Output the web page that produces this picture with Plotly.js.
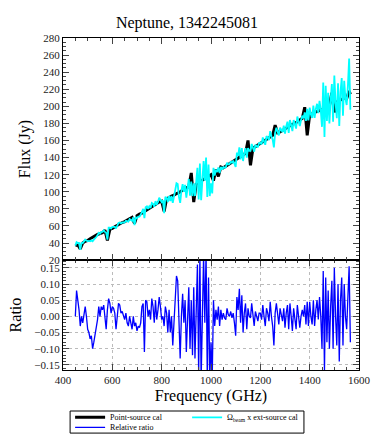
<!DOCTYPE html>
<html>
<head>
<meta charset="utf-8">
<script src="https://cdn.plot.ly/plotly-3.0.1.min.js"></script>
<style>
  body { margin: 0; background: #fff; }
  #plotArea { width: 374px; height: 441px; }
</style>
</head>
<body>
<div id="plotArea"></div>
<script>
// Neptune, obsid 1342245081 - flux and ratio vs frequency

// frequency grid for the ext-source curve and the ratio (GHz)
var freqFine = [
  450, 455, 460, 465, 470, 475, 480, 485, 490, 495, 500, 505, 510, 515, 520, 525, 530, 535, 540, 545,
  550, 555, 560, 565, 570, 575, 580, 585, 590, 595, 600, 605, 610, 615, 620, 625, 630, 635, 640, 645,
  650, 655, 660, 665, 670, 675, 680, 685, 690, 695, 700, 705, 710, 715, 720, 725, 730, 735, 740, 745,
  750, 755, 760, 765, 770, 775, 780, 785, 790, 795, 800, 805, 810, 815, 820, 825, 830, 835, 840, 845,
  850, 855, 860, 865, 870, 875, 880, 885, 890, 895, 900, 905, 910, 915, 920, 925, 930, 935, 940, 945,
  950, 955, 960, 965, 970, 975, 980, 985, 990, 995, 1000, 1005, 1010, 1015, 1020, 1025, 1030, 1035, 1040, 1045,
  1050, 1055, 1060, 1065, 1070, 1075, 1080, 1085, 1090, 1095, 1100, 1105, 1110, 1115, 1120, 1125, 1130, 1135, 1140, 1145,
  1150, 1155, 1160, 1165, 1170, 1175, 1180, 1185, 1190, 1195, 1200, 1205, 1210, 1215, 1220, 1225, 1230, 1235, 1240, 1245,
  1250, 1255, 1260, 1265, 1270, 1275, 1280, 1285, 1290, 1295, 1300, 1305, 1310, 1315, 1320, 1325, 1330, 1335, 1340, 1345,
  1350, 1355, 1360, 1365, 1370, 1375, 1380, 1385, 1390, 1395, 1400, 1405, 1410, 1415, 1420, 1425, 1430, 1435, 1440, 1445,
  1450, 1455, 1460, 1465, 1470, 1475, 1480, 1485, 1490, 1495, 1500, 1505, 1510, 1515, 1520, 1525, 1530, 1535, 1540, 1545,
  1550, 1555, 1560, 1565
];

// Omega_beam x ext-source cal (Jy)
var extFlux = [
  37, 41, 40, 40, 32, 40, 40, 42, 44, 43, 42, 42.5, 42, 43, 42, 44, 45, 47, 49, 52,
  51, 53, 53, 55, 53, 52, 44, 58, 58, 57, 59, 59, 59, 57, 60, 63.5, 64, 63, 64, 64,
  64, 66, 65, 65, 68, 67, 66, 70, 61, 70, 69, 71, 71, 73, 78, 80, 69, 82, 83, 80,
  83, 81, 87, 86, 82.5, 89, 85, 88, 93, 91, 88, 90, 75, 94, 93, 88, 95, 89, 95, 87,
  93, 102, 110, 109, 94, 87, 101, 109, 100, 108, 93, 105, 115, 95.5, 112, 95, 110, 95, 116, 128,
  91, 133, 90, 116, 136, 113, 140, 94, 132, 95, 110, 98, 128, 119, 126, 123, 128.5, 122, 129, 126,
  129, 128, 128.5, 134, 132, 132.5, 135, 134, 136.5, 133, 129, 146, 142, 152, 138, 151, 136, 145, 151, 140,
  151, 148, 148, 156, 151, 147, 155, 153, 152, 157, 157.5, 155.5, 163.5, 159, 155, 165, 163.5, 160.5, 171, 165,
  161, 152, 169, 175, 169, 166, 175, 171.5, 170, 177.5, 168, 176.5, 182, 169, 184, 178, 171, 184, 180, 174,
  188, 183, 177, 184, 189, 186, 193, 183, 197, 183.5, 198.5, 190.5, 186.5, 201, 186.5, 197, 203, 192, 206.5, 195.5,
  176, 228, 164, 224, 183, 216, 180, 207, 226, 182, 236, 204, 186, 227, 177, 217, 233, 189, 230, 209,
  201.5, 224, 256, 196
];

// relative ratio
var ratio = [
  0.00, 0.08, 0.05, 0.02, -0.03, 0.00, -0.02, 0.01, 0.03, 0.00, -0.04, -0.05, -0.07, -0.06, -0.10, -0.08, -0.06, -0.04, -0.01, 0.03,
  0.00, 0.03, 0.02, 0.035, 0.00, -0.04, 0.02, 0.055, 0.04, 0.01, 0.03, 0.025, 0.01, -0.04, 0.00, 0.04, 0.035, 0.01, 0.015, 0.00,
  -0.01, 0.01, -0.02, -0.03, 0.00, -0.02, -0.04, 0.00, -0.03, -0.02, -0.045, -0.03, -0.035, -0.02, 0.03, 0.04, -0.11, 0.05, 0.045, 0.00,
  0.02, -0.01, 0.055, 0.03, -0.02, 0.05, -0.01, 0.02, 0.06, 0.03, -0.01, 0.00, -0.03, 0.03, 0.01, -0.05, 0.02, -0.05, 0.00, -0.09,
  -0.03, 0.05, 0.125, 0.11, -0.05, -0.13, 0.00, 0.07, -0.02, 0.05, -0.11, 0.00, 0.09, -0.10, 0.05, -0.12, 0.09, -0.13, 0.06, 0.16,
  -0.18, 0.19, -0.20, 0.02, 0.19, -0.02, 0.20, -0.20, 0.12, -0.20, -0.08, -0.19, 0.05, -0.03, 0.02, -0.01, 0.03, -0.03, 0.02, -0.01,
  0.01, -0.005, -0.01, 0.025, 0.005, 0.00, 0.015, -0.005, 0.01, -0.02, -0.06, 0.06, 0.02, 0.085, -0.02, 0.065, -0.05, 0.01, 0.04, -0.04,
  0.025, 0.00, -0.005, 0.04, 0.00, -0.03, 0.015, 0.00, -0.015, 0.01, 0.01, -0.01, 0.035, 0.00, -0.03, 0.025, 0.01, -0.015, 0.045, 0.00,
  -0.03, -0.09, 0.01, 0.04, 0.00, -0.025, 0.025, 0.00, -0.015, 0.025, -0.035, 0.01, 0.035, -0.04, 0.04, 0.00, -0.045, 0.025, 0.00, -0.04,
  0.035, 0.00, -0.035, 0.00, 0.02, 0.00, 0.035, -0.025, 0.045, -0.03, 0.045, 0.00, -0.025, 0.05, -0.03, 0.02, 0.05, -0.01, 0.06, 0.00,
  -0.10, 0.14, -0.17, 0.12, -0.08, 0.08, -0.10, 0.03, 0.11, -0.10, 0.15, 0.00, -0.09, 0.10, -0.14, 0.05, 0.12, -0.09, 0.10, 0.00,
  -0.04, 0.06, 0.155, -0.08
];

// coarser grid for the point-source curve (GHz)
var freqCoarse = [
  450, 460, 470, 480, 490, 500, 510, 520, 530, 540, 550, 560, 570, 580, 590, 600, 610, 620, 630, 640,
  650, 660, 670, 680, 690, 700, 710, 720, 730, 740, 750, 760, 770, 780, 790, 800, 810, 820, 830, 840,
  850, 860, 870, 880, 890, 900, 910, 920, 930, 940, 950, 960, 970, 980, 990, 1000, 1010, 1020, 1030, 1040,
  1050, 1060, 1070, 1080, 1090, 1100, 1110, 1120, 1130, 1140, 1150, 1160, 1170, 1180, 1190, 1200, 1210, 1220, 1230, 1240,
  1250, 1260, 1270, 1280, 1290, 1300, 1310, 1320, 1330, 1340, 1350, 1360, 1370, 1380, 1390, 1400, 1410, 1420, 1430, 1440,
  1450, 1460, 1470, 1480, 1490, 1500, 1510, 1520, 1530, 1540, 1550, 1560, 1565
];

// point-source cal (Jy)
var pointFlux = [
  37, 38, 33, 40, 42, 43, 45, 47, 48, 50, 51, 52, 55, 43, 56, 57, 59, 61, 62, 64,
  65, 67, 69, 70, 63, 72, 74, 75, 77, 79, 81, 82, 84, 86, 88, 89, 77, 92, 93, 95,
  96, 98, 99, 101, 103, 104, 106, 122, 88, 109, 111, 113, 114, 117, 118, 120, 113, 126, 118, 129,
  128, 130, 131, 134, 135, 137, 139, 141, 143, 145, 160, 131, 151, 153, 155, 156, 158, 160, 162, 164,
  166, 178, 169, 170, 172, 174, 175, 177, 179, 180, 182, 183, 186, 199, 166, 190, 191, 193, 194, 195,
  196, 198, 199, 201, 216, 193, 205, 207, 208, 210, 209, 218, 214
];

var serif = "Liberation Serif, Times New Roman, serif";

var tracePoint = {
  x: freqCoarse, y: pointFlux,
  type: "scatter", mode: "lines",
  name: "Point-source cal", legend: "legend",
  line: { color: "#000000", width: 3 },
  xaxis: "x2", yaxis: "y"
};
var traceExt = {
  x: freqFine, y: extFlux,
  type: "scatter", mode: "lines",
  name: "Ω<sub>beam</sub> x ext-source cal", legend: "legend",
  line: { color: "#00ffff", width: 1.8 },
  xaxis: "x2", yaxis: "y"
};
var traceRatio = {
  x: freqFine, y: ratio,
  type: "scatter", mode: "lines",
  name: "Relative ratio", legend: "legend2",
  line: { color: "#0000ff", width: 1.3 },
  xaxis: "x", yaxis: "y2"
};

var data = [tracePoint, traceExt, traceRatio];

var tickfont = { family: serif, size: 11, color: "#222" };
var legendFont = { family: serif, size: 8 };

var layout = {
  width: 374, height: 441,
  margin: { l: 63, r: 15, t: 38, b: 71, autoexpand: false },
  paper_bgcolor: "#fff", plot_bgcolor: "#fff",
  font: { family: serif, color: "#000" },
  title: { text: "Neptune, 1342245081", font: { family: serif, size: 16 },
           x: 0.5, xanchor: "center", y: 0.95, yanchor: "middle", yref: "container" },
  showlegend: true,
  // legend rows are split in two so they sit as close as the reference's
  legend: {
    orientation: "h", x: 0.024, xanchor: "left", y: -0.099, yanchor: "top",
    entrywidth: 72, entrywidthmode: "pixels", itemwidth: 30,
    bgcolor: "rgba(0,0,0,0)", borderwidth: 0, font: legendFont
  },
  legend2: {
    orientation: "h", x: 0.024, xanchor: "left", y: -0.129, yanchor: "top",
    itemwidth: 30, bgcolor: "rgba(0,0,0,0)", borderwidth: 0, font: legendFont
  },
  shapes: [{
    type: "rect", xref: "paper", yref: "paper",
    x0: 0.024, x1: 0.814, y0: -0.19, y1: -0.1235,
    line: { color: "#000", width: 1 }, fillcolor: "rgba(0,0,0,0)", layer: "below"
  }],
  // bottom panel x axis (labels)
  xaxis: {
    domain: [0, 1], anchor: "y2", range: [400, 1600],
    dtick: 200, ticks: "inside", ticklen: 6, tickcolor: "#444",
    minor: { dtick: 50, ticks: "inside", ticklen: 3, tickcolor: "#444" },
    showline: true, linecolor: "#000", linewidth: 1, mirror: "allticks",
    showgrid: true, gridcolor: "#bbb", griddash: "dot", gridwidth: 1,
    zeroline: false, tickfont: tickfont,
    title: { text: "Frequency (GHz)", font: { family: serif, size: 16 }, standoff: 4 }
  },
  // top panel x axis (no labels)
  xaxis2: {
    domain: [0, 1], anchor: "y", range: [400, 1600], matches: "x",
    dtick: 200, ticks: "inside", ticklen: 6, tickcolor: "#444",
    minor: { dtick: 50, ticks: "inside", ticklen: 3, tickcolor: "#444" },
    showline: true, linecolor: "#000", linewidth: 1, mirror: "allticks",
    showgrid: false, zeroline: false, showticklabels: false
  },
  yaxis: {
    domain: [0.331, 1], anchor: "x2", range: [20, 280],
    dtick: 20, ticks: "inside", ticklen: 6, tickcolor: "#444",
    minor: { dtick: 5, ticks: "inside", ticklen: 3, tickcolor: "#444" },
    showline: true, linecolor: "#000", linewidth: 1, mirror: "allticks",
    showgrid: false, zeroline: false, tickfont: tickfont,
    title: { text: "Flux (Jy)", font: { family: serif, size: 16 }, standoff: 8 }
  },
  yaxis2: {
    domain: [0, 0.331], anchor: "x", range: [-0.166, 0.174],
    tickvals: [-0.15, -0.10, -0.05, 0.00, 0.05, 0.10, 0.15],
    ticktext: ["\u22120.15", "\u22120.10", "\u22120.05", "0.00", "0.05", "0.10", "0.15"],
    ticks: "inside", ticklen: 6, tickcolor: "#444",
    minor: { dtick: 0.01, tick0: 0, ticks: "inside", ticklen: 3, tickcolor: "#444" },
    showline: true, linecolor: "#000", linewidth: 1, mirror: "allticks",
    showgrid: true, gridcolor: "#bbb", griddash: "dot", gridwidth: 1,
    zeroline: false, tickfont: tickfont,
    title: { text: "Ratio", font: { family: serif, size: 16 }, standoff: 8 }
  }
};

Plotly.newPlot("plotArea", data, layout, { displayModeBar: false, staticPlot: true });
</script>
</body>
</html>
